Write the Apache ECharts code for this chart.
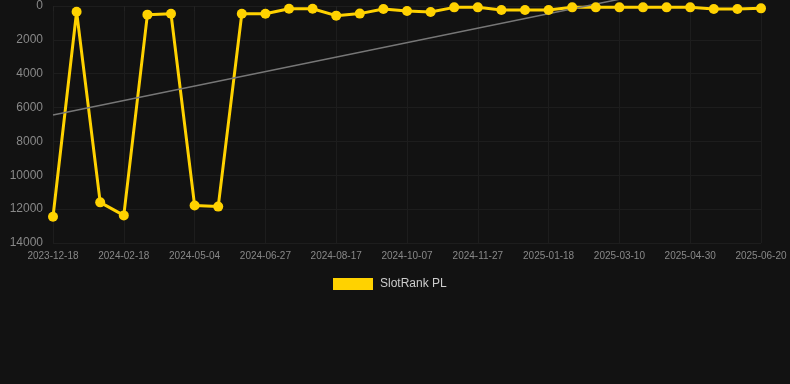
<!DOCTYPE html>
<html>
<head>
<meta charset="utf-8">
<script src="https://cdn.jsdelivr.net/npm/echarts@6/dist/echarts.min.js"></script>
<style>
  html, body { margin: 0; padding: 0; background: #121212; }
  #chart { width: 790px; height: 384px; }
</style>
</head>
<body>
<div id="chart"></div>
<script>
// categories (labels shown every 3rd)
const dates = [
  '2023-12-18', '2024-01-07', '2024-01-28', '2024-02-18', '2024-03-13', '2024-04-08',
  '2024-05-04', '2024-05-22', '2024-06-09', '2024-06-27', '2024-07-14', '2024-07-31',
  '2024-08-17', '2024-09-03', '2024-09-20', '2024-10-07', '2024-10-24', '2024-11-10',
  '2024-11-27', '2024-12-14', '2025-01-01', '2025-01-18', '2025-02-04', '2025-02-21',
  '2025-03-10', '2025-03-27', '2025-04-13', '2025-04-30', '2025-05-17', '2025-06-03',
  '2025-06-20'
];
const rankPL = [
  12450, 340, 11600, 12370, 510, 455, 11780, 11850, 455, 455,
  160, 160, 570, 450, 180, 295, 355, 80, 80, 236,
  236, 236, 80, 80, 80, 80, 80, 80, 180, 180, 140
];
// trend line end values
const trendEnds = [6440, -2110];

const font = 'Liberation Sans, Arial, sans-serif';
const chart = echarts.init(document.getElementById('chart'));
chart.setOption({
  backgroundColor: '#121212',
  animation: false,
  grid: { left: 53, right: 29, top: 6, bottom: 141 },
  legend: {
    data: ['SlotRank PL'],
    top: 278,
    left: 333,
    padding: 0,
    itemWidth: 40,
    itemHeight: 12,
    icon: 'rect',
    textStyle: { color: '#cccccc', fontSize: 12, fontFamily: font, padding: [0, 0, 0, 2] }
  },
  xAxis: {
    type: 'category',
    data: dates,
    boundaryGap: false,
    axisLine: { show: false },
    axisTick: { show: true, interval: 2, length: 5, lineStyle: { color: '#222222' } },
    axisLabel: { interval: 2, color: '#888888', fontSize: 10, margin: 8, fontFamily: font },
    splitLine: { show: true, interval: 2, lineStyle: { color: '#1d1d1d' } }
  },
  yAxis: {
    type: 'value',
    inverse: true,
    min: 0,
    max: 14000,
    interval: 2000,
    axisLine: { show: false },
    axisTick: { show: false },
    axisLabel: { color: '#888888', fontSize: 12, margin: 10, fontFamily: font, formatter: v => String(v) },
    splitLine: { lineStyle: { color: '#1d1d1d' } }
  },
  series: [
    {
      name: 'SlotRank PL',
      type: 'line',
      data: rankPL,
      symbol: 'none',
      itemStyle: { color: '#ffd200' },
      lineStyle: { color: '#ffd200', width: 3 },
      z: 1
    },
    {
      name: 'trend',
      type: 'line',
      data: [[dates[0], trendEnds[0]], [dates[dates.length - 1], trendEnds[1]]],
      symbol: 'none',
      silent: true,
      clip: false,
      lineStyle: { color: '#777777', width: 1.5 },
      z: 2
    },
    {
      name: 'SlotRank PL',
      type: 'scatter',
      data: rankPL,
      symbol: 'circle',
      symbolSize: 10,
      itemStyle: { color: '#ffd200', opacity: 1 },
      z: 3
    }
  ]
});
</script>
</body>
</html>
